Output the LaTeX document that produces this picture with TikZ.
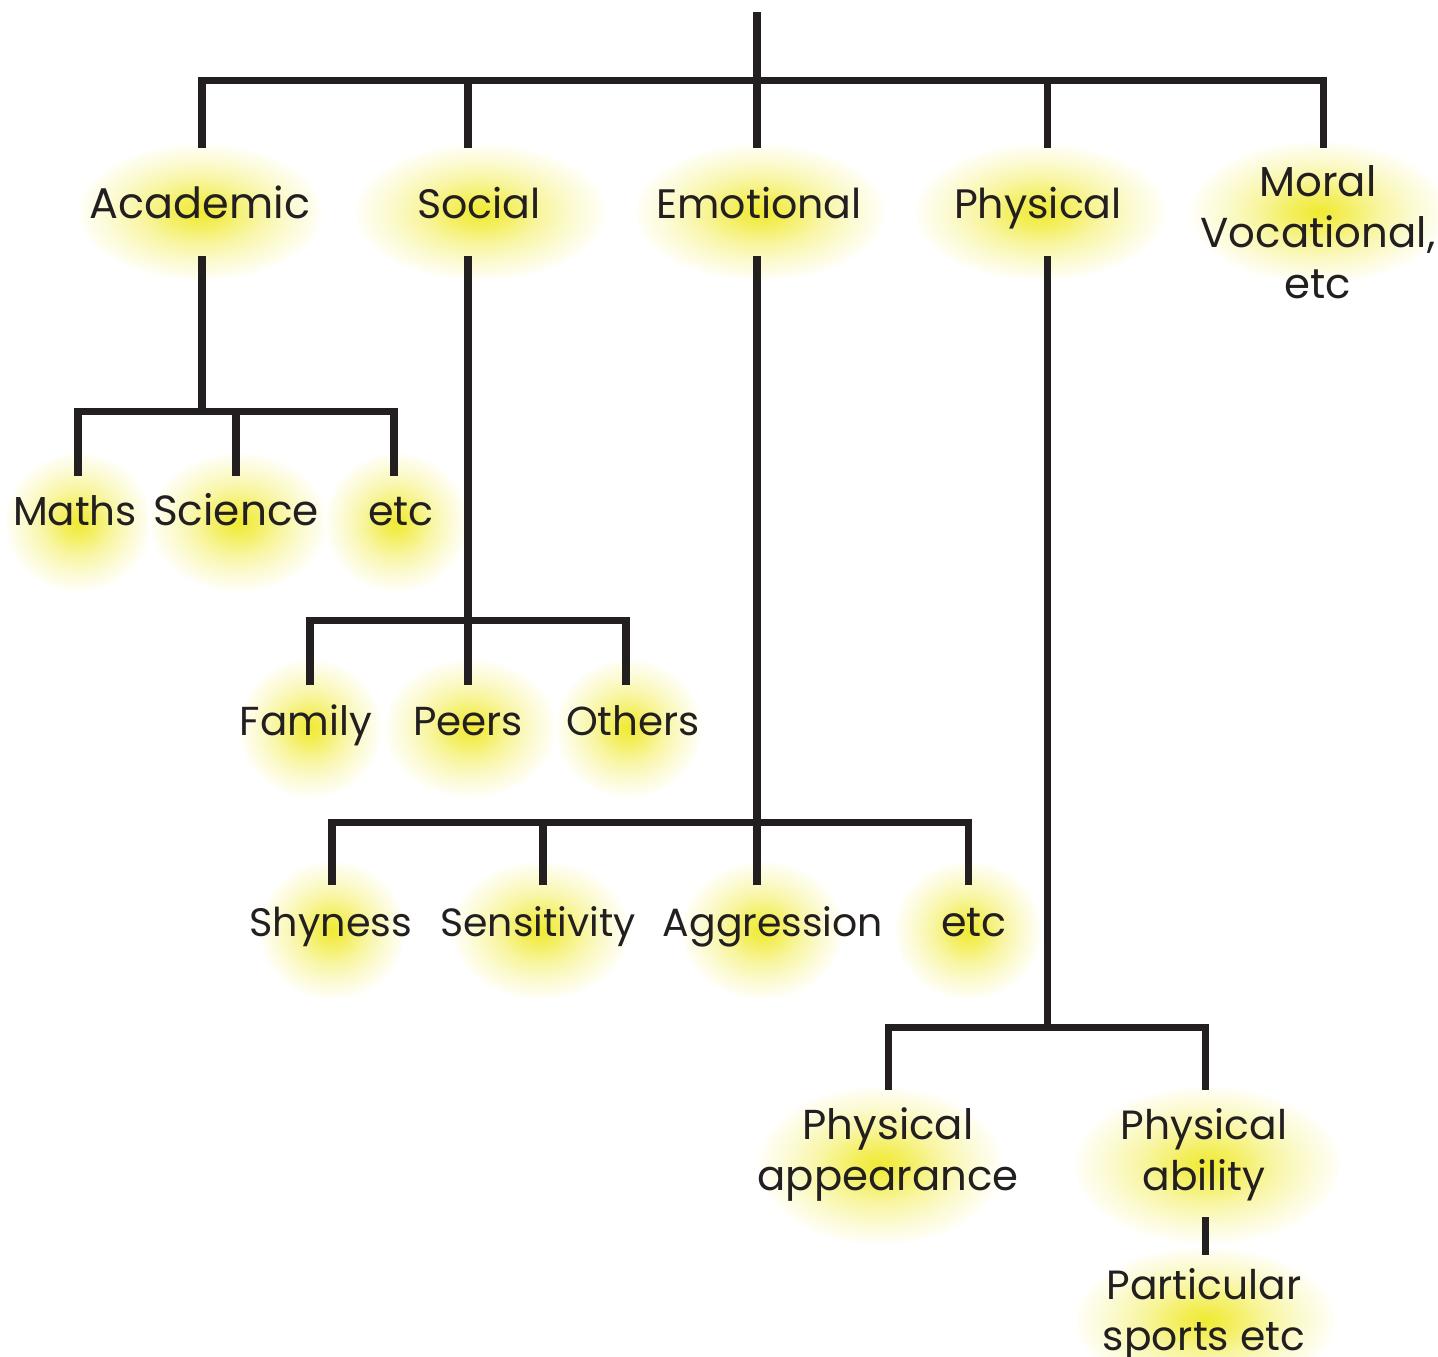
\documentclass[tikz,border=0pt]{standalone}
\usepackage{fontspec}
\setmainfont{Poppins}
\definecolor{glowc}{RGB}{240,234,50}
\definecolor{ink}{RGB}{35,31,32}
\pgfdeclareradialshading{glow}{\pgfpoint{0bp}{0bp}}{color(0bp)=(glowc); color(5bp)=(glowc!80!white); color(12bp)=(glowc!45!white); color(19bp)=(glowc!20!white); color(23bp)=(glowc!8!white); color(25bp)=(white); color(50bp)=(white)}
\newcommand\glowell[3]{\shade[shading=glow] (#1) ellipse [x radius=#2cm, y radius=#3cm];}
\begin{document}
\begin{tikzpicture}[x=0.01cm,y=-0.01cm,
  conn/.style={draw=ink, line width=0.07cm, line cap=butt, line join=miter},
  lbl/.style={font=\fontsize{#1}{14.5}\selectfont, text=ink, align=center, inner sep=0pt},
  lbl/.default=11.7]
\useasboundingbox (0,0) rectangle (1438,1357);
% glows
\glowell{200,212}{1.24}{0.69}
\glowell{480,212}{1.27}{0.69}
\glowell{760,212}{1.27}{0.69}
\glowell{1040,212}{1.27}{0.69}
\glowell{1318,212}{1.30}{0.72}
\glowell{78,522}{0.74}{0.70}
\glowell{238,522}{0.90}{0.70}
\glowell{396,522}{0.72}{0.70}
\glowell{310,728}{0.72}{0.70}
\glowell{470,728}{0.87}{0.70}
\glowell{628,728}{0.74}{0.70}
\glowell{332,930}{0.74}{0.70}
\glowell{540,930}{0.90}{0.70}
\glowell{762,930}{0.82}{0.70}
\glowell{968,930}{0.74}{0.70}
\glowell{880,1165}{1.24}{0.80}
\glowell{1207,1165}{1.35}{0.80}
\glowell{1205,1320}{1.32}{0.74}
% labels
\node[lbl=12.2, anchor=base] (acad) at (200,218) {Academic};
\node[lbl, anchor=base] (soc) at (479,218) {Social};
\node[lbl, anchor=base] (emo) at (759,218) {Emotional};
\node[lbl, anchor=base] (phys) at (1038,218) {Physical};
\node[lbl=11.9, anchor=center] (moral) at (1318,232) {Moral\\Vocational,\\etc};
\node[lbl=11.5, anchor=base] (maths) at (75,525) {Maths};
\node[lbl=12, anchor=base] (sci) at (236,525) {Science};
\node[lbl=11.7, anchor=base] (acadetc) at (401,525) {etc};
\node[lbl=11.5, anchor=base] (fam) at (306,735) {Family};
\node[lbl=11.5, anchor=base] (peers) at (468,735) {Peers};
\node[lbl=11.5, anchor=base] (others) at (633,735) {Others};
\node[lbl=11.3, anchor=base] (shy) at (331,936) {Shyness};
\node[lbl=11.2, anchor=base] (sens) at (538,936) {Sensitivity};
\node[lbl=11.2, anchor=base] (aggr) at (773,936) {Aggression};
\node[lbl=11.7, anchor=base] (emoetc) at (974,936) {etc};
\node[lbl=11.9, anchor=center] (app) at (888,1155) {Physical\\appearance};
\node[lbl=11.6, anchor=center] (abil) at (1204,1155) {Physical\\ability};
\node[lbl=11.6, anchor=center] (sport) at (1204,1315) {Particular\\sports etc};
% connector points
\coordinate (root) at (757,12);
\coordinate (rootj) at (757,80);
\coordinate (acadin) at (202,148);
\coordinate (socin) at (468,148);
\coordinate (emoin) at (757,148);
\coordinate (physin) at (1047,148);
\coordinate (moralin) at (1323,148);
\coordinate (acadout) at (202,256);
\coordinate (socout) at (468,256);
\coordinate (emoout) at (757,256);
\coordinate (physout) at (1047,256);
\coordinate (acadj) at (202,411);
\coordinate (mathsin) at (78,476);
\coordinate (sciin) at (236,476);
\coordinate (acadetcin) at (394,476);
\coordinate (socj) at (468,620);
\coordinate (famin) at (310,685);
\coordinate (peersin) at (468,685);
\coordinate (othersin) at (626,685);
\coordinate (emoj) at (757,822);
\coordinate (shyin) at (332,885);
\coordinate (sensin) at (543,885);
\coordinate (aggrin) at (757,885);
\coordinate (emoetcin) at (968,885);
\coordinate (physj) at (1047,1027);
\coordinate (appin) at (888,1090);
\coordinate (abilin) at (1205,1090);
\coordinate (abilout) at (1205,1217);
\coordinate (sportin) at (1205,1255);
% connectors
\draw[conn] (root) -- (emoin);
\draw[conn] (acadin) |- (rootj) -| (moralin);
\draw[conn] (socin) -- (socin |- rootj);
\draw[conn] (physin) -- (physin |- rootj);
\draw[conn] (acadout) -- (acadj);
\draw[conn] (mathsin) |- (acadj) -| (acadetcin);
\draw[conn] (sciin) -- (sciin |- acadj);
\draw[conn] (socout) -- (peersin);
\draw[conn] (famin) |- (socj) -| (othersin);
\draw[conn] (emoout) -- (aggrin);
\draw[conn] (shyin) |- (emoj) -| (emoetcin);
\draw[conn] (sensin) -- (sensin |- emoj);
\draw[conn] (physout) -- (physj);
\draw[conn] (appin) |- (physj) -| (abilin);
\draw[conn] (abilout) -- (sportin);
\end{tikzpicture}
\end{document}
